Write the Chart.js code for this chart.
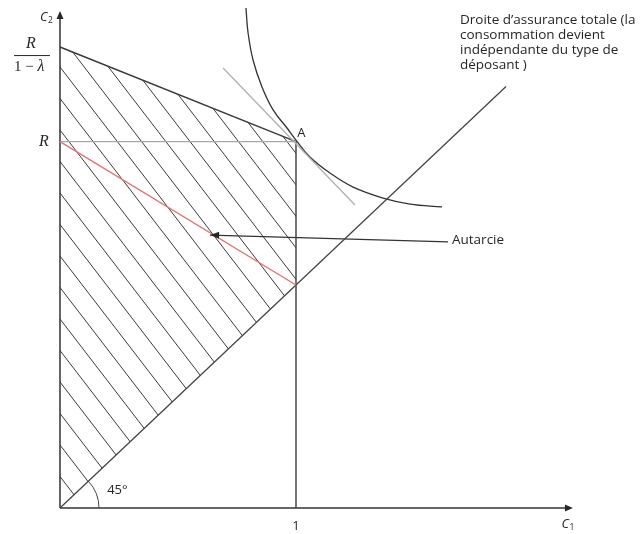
<!DOCTYPE html>
<html>
<head>
<meta charset="utf-8">
<script src="https://cdn.jsdelivr.net/npm/chart.js@4/dist/chart.umd.min.js"></script>
<style>
  html, body { margin: 0; padding: 0; background: #fff; }
  #wrap { width: 644px; height: 534px; position: relative; }
</style>
</head>
<body>
<div id="wrap"><canvas id="diagram"></canvas></div>
<script>
// values in model units (C1 horizontal, C2 vertical)
const R_OVER_1_MINUS_LAMBDA = 2.067;
const R_VALUE = 1.643;

const budgetX = [0, 1];
const budgetY = [R_OVER_1_MINUS_LAMBDA, R_VALUE];
const autarkyX = [0, 1];
const autarkyY = [R_VALUE, 1.0];
const refLineX = [0, 1];
const refLineY = [R_VALUE, R_VALUE];
const verticalX = [1, 1];
const verticalY = [0, R_VALUE];
const fullInsuranceX = [0, 1.89];
const fullInsuranceY = [0, 1.89];
const tangentX = [0.691, 1.25];
const tangentY = [1.973, 1.359];
const indiffX = [0.788, 0.797, 0.818, 0.856, 0.903, 0.962, 1.0, 1.059, 1.144, 1.242, 1.369, 1.483, 1.619];
const indiffY = [2.242, 2.130, 2.009, 1.888, 1.785, 1.704, 1.650, 1.574, 1.502, 1.439, 1.390, 1.363, 1.350];
const zoneX = [0, 0, 1, 1];
const zoneY = [0, R_OVER_1_MINUS_LAMBDA, R_VALUE, 1.0];
const arrowX = [1.644, 0.636];
const arrowY = [1.193, 1.224];
const axisX = [0, 2.165];
const axisY = [0, 2.22];

const pts = (xs, ys) => xs.map((x, i) => ({ x: x, y: ys[i] }));

const HATCH_SLOPE = 1.3;
const HATCH_GAP = 31.5;
const textFont = '13.5px "Open Sans"';
const ink = '#262626';

const overlay = {
  id: 'overlay',
  beforeDatasetsDraw(chart) {
    const ctx = chart.ctx;
    const xs = chart.scales.x, ys = chart.scales.y;
    const meta = chart.getDatasetMeta(0);
    ctx.save();
    ctx.beginPath();
    meta.data.forEach((p, i) => i ? ctx.lineTo(p.x, p.y) : ctx.moveTo(p.x, p.y));
    ctx.closePath();
    ctx.clip();
    const ox = xs.getPixelForValue(0), oy = ys.getPixelForValue(0);
    ctx.strokeStyle = '#3a3a3a';
    ctx.lineWidth = 1;
    for (let k = 0; k < 28; k++) {
      const y0 = oy - k * HATCH_GAP;
      ctx.beginPath();
      ctx.moveTo(ox - 50, y0 - 50 * HATCH_SLOPE);
      ctx.lineTo(ox + 400, y0 + 400 * HATCH_SLOPE);
      ctx.stroke();
    }
    ctx.restore();
  },
  afterDatasetsDraw(chart) {
    const ctx = chart.ctx;
    const xs = chart.scales.x, ys = chart.scales.y;
    const px = v => xs.getPixelForValue(v), py = v => ys.getPixelForValue(v);
    const ox = px(0), oy = py(0);
    ctx.save();
    ctx.fillStyle = ink;
    // axis arrow heads
    const xe = px(axisX[1]), ye = py(axisY[1]);
    ctx.beginPath();
    ctx.moveTo(xe + 2, oy); ctx.lineTo(xe - 6, oy - 3.5); ctx.lineTo(xe - 6, oy + 3.5); ctx.closePath(); ctx.fill();
    ctx.beginPath();
    ctx.moveTo(ox, ye - 2); ctx.lineTo(ox - 3.5, ye + 6); ctx.lineTo(ox + 3.5, ye + 6); ctx.closePath(); ctx.fill();
    // autarcie arrow head
    const ax = px(arrowX[1]), ay = py(arrowY[1]);
    const ang = Math.atan2(py(arrowY[0]) - ay, px(arrowX[0]) - ax);
    ctx.beginPath();
    ctx.moveTo(ax, ay);
    ctx.lineTo(ax + 9 * Math.cos(ang) - 3.5 * Math.sin(ang), ay + 9 * Math.sin(ang) + 3.5 * Math.cos(ang));
    ctx.lineTo(ax + 9 * Math.cos(ang) + 3.5 * Math.sin(ang), ay + 9 * Math.sin(ang) - 3.5 * Math.cos(ang));
    ctx.closePath(); ctx.fill();
    // 45° arc
    const a45 = Math.atan2(oy - py(1), px(1) - ox);
    ctx.strokeStyle = '#444';
    ctx.lineWidth = 1;
    ctx.beginPath();
    ctx.arc(ox, oy, 39, -a45, 0);
    ctx.stroke();

    // texts
    ctx.textBaseline = 'middle';
    ctx.font = textFont;
    ctx.textAlign = 'left';
    ['Droite d\u2019assurance totale (la', 'consommation devient', 'ind\u00e9pendante du type de', 'd\u00e9posant )']
      .forEach((t, i) => ctx.fillText(t, px(1.695), py(2.188) + i * 15));
    ctx.fillText('Autarcie', px(1.661), py(1.202));
    ctx.font = '13px "Open Sans"';
    ctx.fillText('45\u00b0', px(0.2), py(0.081));
    ctx.fillText('A', px(1.005), py(1.682));
    ctx.textAlign = 'center';
    ctx.fillText('1', px(1), oy + 18);

    // axis names
    ctx.font = 'italic 13px "Open Sans"';
    ctx.textAlign = 'left';
    ctx.fillText('C', px(-0.085), py(2.202));
    ctx.fillText('C', px(2.125), oy + 16);
    ctx.font = '8.5px "Open Sans"';
    ctx.fillText('2', px(-0.085) + 8, py(2.202) + 4);
    ctx.fillText('1', px(2.125) + 8, oy + 20);

    // R and R/(1-λ)
    ctx.textAlign = 'center';
    ctx.font = 'italic 16px "Liberation Serif"';
    ctx.fillText('R', ox - 16, py(R_VALUE));
    const cx = ox - 29, cy = py(R_OVER_1_MINUS_LAMBDA);
    ctx.fillText('R', cx, cy - 3);
    ctx.fillRect(cx - 17, cy + 8, 36, 1);
    ctx.font = '15px "Liberation Serif"';
    ctx.textAlign = 'left';
    ctx.fillText('1 \u2212 ', cx - 17, cy + 20);
    const w = ctx.measureText('1 \u2212 ').width;
    ctx.font = 'italic 16px "Liberation Serif"';
    ctx.fillText('\u03bb', cx - 17 + w, cy + 20);
    ctx.restore();
  }
};

const line = (xs, ys, color, width, extra) => Object.assign({
  data: pts(xs, ys), showLine: true, borderColor: color, borderWidth: width,
  pointRadius: 0, fill: false, tension: 0
}, extra || {});

new Chart(document.getElementById('diagram'), {
  type: 'scatter',
  data: {
    datasets: [
      line(zoneX, zoneY, 'rgba(0,0,0,0)', 0),
      line(refLineX, refLineY, '#a8a8a8', 1.3),
      line(tangentX, tangentY, '#b0b0b0', 1.3),
      line(autarkyX, autarkyY, '#e07474', 1.4),
      line(fullInsuranceX, fullInsuranceY, '#444', 1.3),
      line(budgetX, budgetY, '#3a3a3a', 1.5),
      line(verticalX, verticalY, '#3a3a3a', 1.4),
      line(indiffX, indiffY, '#333', 1.3, { tension: 0.4 }),
      line(arrowX, arrowY, '#333', 1.3),
      line([axisX[0], axisX[1]], [0, 0], '#333', 1.5),
      line([0, 0], [axisY[0], axisY[1]], '#333', 1.5)
    ]
  },
  options: {
    responsive: true,
    maintainAspectRatio: false,
    animation: false,
    layout: { padding: 0 },
    plugins: { legend: { display: false }, tooltip: { enabled: false } },
    scales: {
      x: { type: 'linear', min: -0.2542, max: 2.4746, display: false },
      y: { type: 'linear', min: -0.1166, max: 2.278, display: false }
    }
  },
  plugins: [overlay]
});
</script>
</body>
</html>
